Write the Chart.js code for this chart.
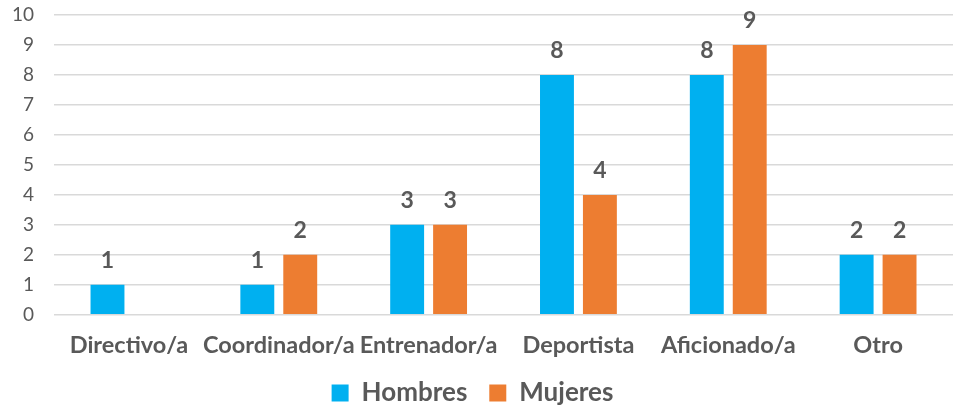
<!DOCTYPE html>
<html>
<head>
<meta charset="utf-8">
<script src="https://cdn.jsdelivr.net/npm/chart.js@4"></script>
<style>
  html, body { margin: 0; padding: 0; background: #fff; }
  #wrap { width: 955px; height: 416px; }
</style>
</head>
<body>
<div id="wrap"><canvas id="chart" width="955" height="416"></canvas></div>
<script>
// data
const categories = ['Directivo/a', 'Coordinador/a', 'Entrenador/a', 'Deportista', 'Aficionado/a', 'Otro'];
const hombres = [1, 1, 3, 8, 8, 2];
const mujeres = [null, 2, 3, 4, 9, 2];
const yTicks = [0, 1, 2, 3, 4, 5, 6, 7, 8, 9, 10];

const labelColor = '#595959';

// value labels above each bar
const barLabels = {
  id: 'barLabels',
  afterDatasetsDraw(chart) {
    const ctx = chart.ctx;
    ctx.save();
    ctx.font = 'bold 23px Lato';
    ctx.fillStyle = labelColor;
    ctx.textAlign = 'center';
    ctx.textBaseline = 'alphabetic';
    chart.data.datasets.forEach((ds, i) => {
      const meta = chart.getDatasetMeta(i);
      meta.data.forEach((bar, j) => {
        const v = ds.data[j];
        if (v === null || v === undefined) return;
        ctx.fillText(String(v), bar.x, bar.y - 17);
      });
    });
    ctx.restore();
  }
};

new Chart(document.getElementById('chart'), {
  type: 'bar',
  data: {
    labels: categories,
    datasets: [
      { label: 'Hombres', data: hombres, backgroundColor: '#00B0F0',
        categoryPercentage: 0.573, barPercentage: 0.79 },
      { label: 'Mujeres', data: mujeres, backgroundColor: '#ED7D31',
        categoryPercentage: 0.573, barPercentage: 0.79 }
    ]
  },
  options: {
    responsive: false,
    animation: false,
    layout: { padding: { top: 0, right: 2, left: -8, bottom: 0 } },
    plugins: {
      tooltip: { enabled: false },
      legend: {
        position: 'bottom',
        labels: {
          boxWidth: 17,
          boxHeight: 17,
          padding: 3,
          color: labelColor,
          font: { family: 'Lato', size: 26, weight: 'bold' },
          generateLabels(chart) {
            const items = Chart.defaults.plugins.legend.labels.generateLabels(chart);
            // wider gap between the two entries
            items[0].text += '   ';
            return items;
          }
        }
      }
    },
    scales: {
      x: {
        grid: { display: false, drawTicks: false },
        border: { display: false },
        ticks: {
          color: labelColor,
          padding: 17,
          maxRotation: 0,
          autoSkip: false,
          font: { family: 'Lato', size: 23.5, weight: 'bold' }
        }
      },
      y: {
        min: 0,
        max: 10,
        afterBuildTicks(axis) {
          axis.ticks = yTicks.map(v => ({ value: v }));
        },
        afterFit(axis) {
          // keep the tick padding from pushing the plot down
          axis.paddingTop = 15;
        },
        grid: { color: '#d9d9d9', lineWidth: 1.5, drawTicks: false },
        border: { display: false },
        ticks: {
          color: labelColor,
          padding: 20,
          autoSkip: false,
          font: { family: 'Lato', size: 19, lineHeight: 1 }
        }
      }
    }
  },
  plugins: [barLabels]
});
</script>
</body>
</html>
